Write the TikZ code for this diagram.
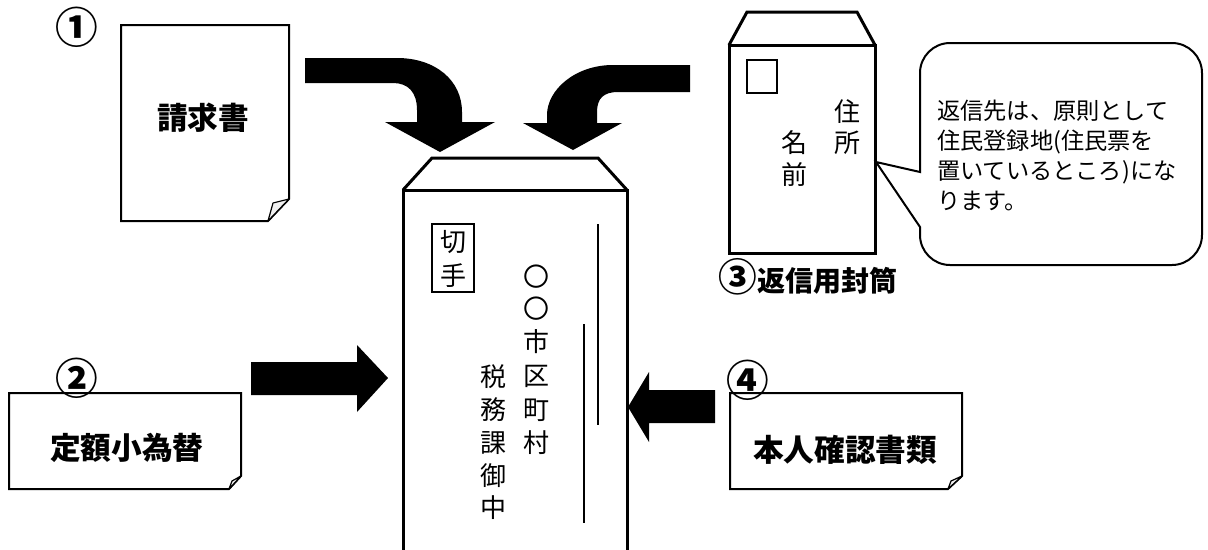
\documentclass[tikz,border=0pt]{standalone}
\usepackage{fontspec}
\newfontfamily\jp{Noto Sans CJK JP}
\begin{document}
\begin{tikzpicture}[x=0.75pt,y=-0.75pt,
  paper/.style={draw=black,line width=1.5pt,fill=white,line join=miter},
  fold/.style={draw=black,line width=0.9pt,fill=gray!12,line join=round},
  env/.style={draw=black,line width=2.25pt,line join=miter},
  bigarrow/.style={fill=black},
  lbl/.style={font=\jp\bfseries\fontsize{23}{23}\selectfont,inner sep=0pt},
  num/.style={font=\jp\bfseries\fontsize{32}{32}\selectfont,inner sep=0pt},
  vchar/.style={font=\jp\fontsize{19.5}{19.5}\selectfont,inner sep=0pt},
  note/.style={font=\jp\fontsize{17.4}{22.5}\selectfont,inner sep=0pt,align=left},
]
\useasboundingbox (0,0) rectangle (1208,550);

% ---------- document 1 : 請求書
\draw[paper] (121,25) -- (289,25) -- (289,199) -- (268,221) -- (121,221) -- cycle;
\draw[fold] (268,221) .. controls (270,212) .. (273,203) -- (289,199) -- cycle;
\node[lbl] (seikyu) at (203,118) {請求書};
\node[num] (n1) at (77,27) {①};

% ---------- document 2 : 定額小為替
\draw[paper] (9,393) -- (241,393) -- (241,476) -- (229,489) -- (9,489) -- cycle;
\draw[fold] (229,489) .. controls (230,485) .. (232,481) -- (241,476) -- cycle;
\node[lbl] (kawase) at (127,448) {定額小為替};
\node[num] (n2) at (77,378) {②};

% ---------- document 4 : 本人確認書類
\draw[paper] (730,393) -- (962,393) -- (962,476) -- (948,489) -- (730,489) -- cycle;
\draw[fold] (948,489) .. controls (949,485) .. (951,481) -- (962,476) -- cycle;
\node[lbl] (honnin) at (845,450) {本人確認書類};
\node[num] (n4) at (748,380) {④};

% ---------- arrows
\fill[bigarrow] (305,58) -- (397,58) .. controls (435,58) and (462,80) .. (462,112)
  -- (462,122) -- (495,122) -- (440,152) -- (385,122) -- (417,122) -- (417,110)
  .. controls (417,92) and (408,83) .. (393,83) -- (305,83) -- cycle;
\fill[bigarrow] (690,65) -- (613,65) .. controls (575,65) and (547,90) .. (547,115)
  -- (547,123) -- (523,123) -- (573,150) -- (622,123) -- (597,123) -- (597,112)
  .. controls (597,98) and (604,92) .. (618,92) -- (690,92) -- cycle;
\fill[bigarrow] (251,362) -- (357,362) -- (357,345) -- (388,378) -- (357,412)
  -- (357,395) -- (251,395) -- cycle;
\fill[bigarrow] (715,390) -- (649,390) -- (649,372) -- (628,407) -- (649,442)
  -- (649,423) -- (715,423) -- cycle;

% ---------- main envelope
\draw[env] (403,556) -- (403,190) -- (627,190) -- (627,556);
\draw[env] (403,190) -- (432,158) -- (598,158) -- (627,190);
\draw[line width=1pt] (432,224) rectangle (474,292);
\node[vchar] (kitte1) at (453,242) {切};
\node[vchar] (kitte2) at (453,276) {手};
\draw[line width=1.2pt] (598,224) -- (598,425);
\draw[line width=1.2pt] (584,324) -- (584,523);
\foreach \c/\y [count=\i] in {〇/277,〇/309,市/342,区/376,町/410,村/443}
  \node[vchar] (addr\i) at (536,\y) {\c};
\foreach \c/\y [count=\i] in {税/377,務/410,課/443,御/476,中/508}
  \node[vchar] (dest\i) at (493,\y) {\c};

% ---------- reply envelope
\draw[env] (729,45) rectangle (875,253);
\draw[env] (729,45) -- (747,12) -- (857,12) -- (875,45);
\draw[line width=1pt] (747,60) rectangle (777,93);
\node[vchar] (ju1) at (847,112) {住};
\node[vchar] (ju2) at (847,143) {所};
\node[vchar] (na1) at (794,143) {名};
\node[vchar] (na2) at (794,175) {前};
\node[font=\jp\bfseries\fontsize{21}{21}\selectfont,inner sep=0pt] (henshin) at (808,277)
  {{\fontsize{29}{29}\selectfont ③}返信用封筒};

% ---------- callout
\draw[line width=1.5pt,fill=white,line join=miter] (920,172) -- (920,73)
  .. controls (920,56.5) and (933.5,43) .. (950,43) -- (1172,43)
  .. controls (1188.5,43) and (1202,56.5) .. (1202,73) -- (1202,235)
  .. controls (1202,251.5) and (1188.5,265) .. (1172,265) -- (950,265)
  .. controls (933.5,265) and (920,251.5) .. (920,235) -- (920,227)
  -- (876,162) -- cycle;
\node[note,anchor=west] (memo) at (937,155) {返信先は、原則として\\住民登録地(住民票を\\置いているところ)にな\\ります。};

\end{tikzpicture}
\end{document}
